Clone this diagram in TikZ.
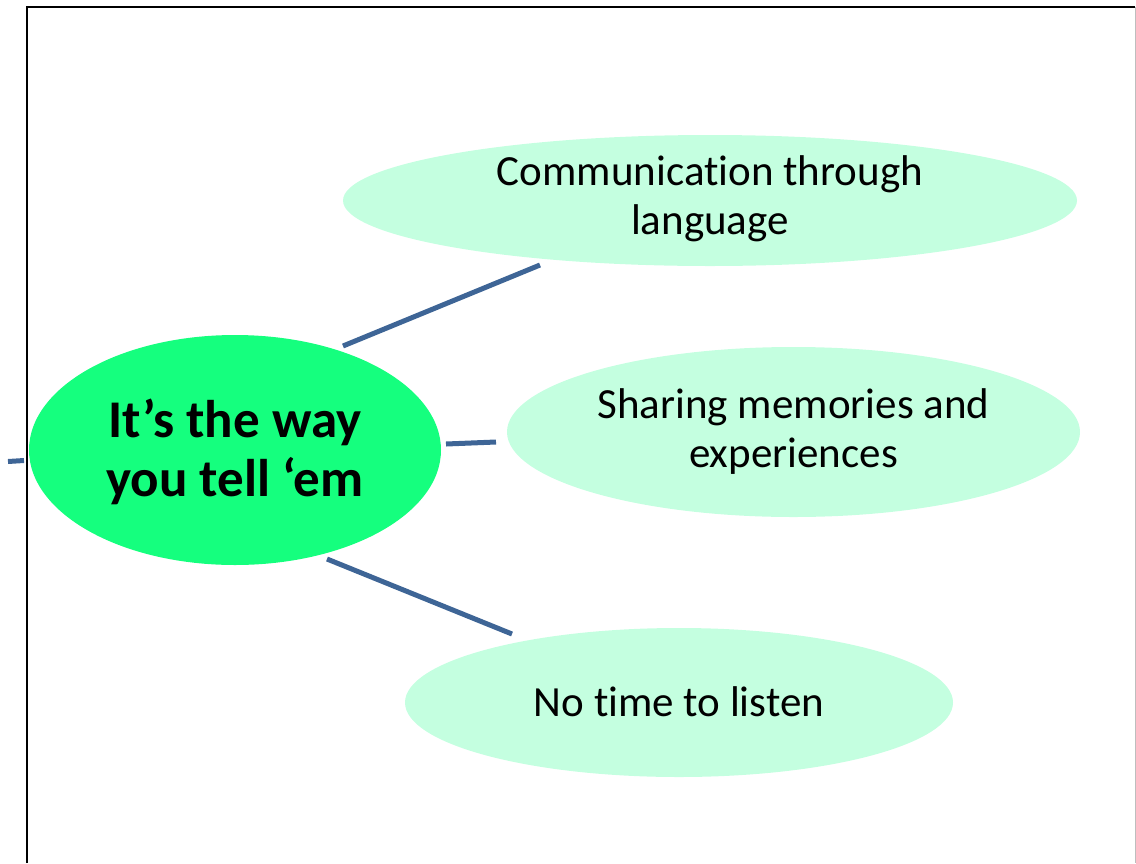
\documentclass[tikz,border=0pt]{standalone}
\usepackage{fontspec}
\setmainfont{Carlito}[Ligatures=CommonOff]
\usetikzlibrary{shapes.geometric}
\definecolor{hubgreen}{RGB}{21,255,126}
\definecolor{leafgreen}{RGB}{196,255,224}
\definecolor{connblue}{RGB}{62,101,150}
\definecolor{framegray}{RGB}{190,190,190}
\tikzset{
  hub/.style={ellipse, fill=hubgreen, draw=none, inner sep=0pt, align=center,
    font=\fontsize{53}{59}\selectfont\bfseries},
  leaf/.style={ellipse, fill=leafgreen, draw=none, inner sep=0pt, align=center,
    font=\fontsize{43}{49}\selectfont},
  conn/.style={draw=connblue, line width=5pt},
}
\begin{document}
\begin{tikzpicture}[x=1pt,y=-1pt]
\useasboundingbox (0,0) rectangle (1136,863);
% frame
\draw[black, line width=2pt] (26.5,863) -- (26.5,7) -- (1135,7);
\draw[framegray, line width=1pt] (1135,7) -- (1135,863);
% nodes
\node[hub, minimum width=412pt, minimum height=230pt] (hub) at (235,450) {};
\node[hub] (hubtext) at (235,452) {It’s the way\\you tell ‘em};
\node[leaf, minimum width=734pt, minimum height=131pt] (comm) at (710,200.5) {};
\node[leaf, fill=none] (commtext) at (710,198.5) {Communication through\\language};
\node[leaf, minimum width=573pt, minimum height=170pt] (share) at (793.5,432) {Sharing memories and\\experiences};
\node[leaf, minimum width=548pt, minimum height=149pt] (listen) at (679,702.5) {};
\node[leaf, fill=none] (listentext) at (679,701.5) {No time to listen};
% connector end points
\coordinate (h1) at (343,346);
\coordinate (c1) at (540,265);
\coordinate (h2) at (446,444);
\coordinate (s2) at (496,442);
\coordinate (h3) at (327,559);
\coordinate (l3) at (512,634);
\coordinate (stubA) at (8,461.5);
\coordinate (stubB) at (24,460.5);
\draw[conn] (h1) -- (c1);
\draw[conn] (h2) -- (s2);
\draw[conn] (h3) -- (l3);
\draw[conn] (stubA) -- (stubB);
\end{tikzpicture}
\end{document}
